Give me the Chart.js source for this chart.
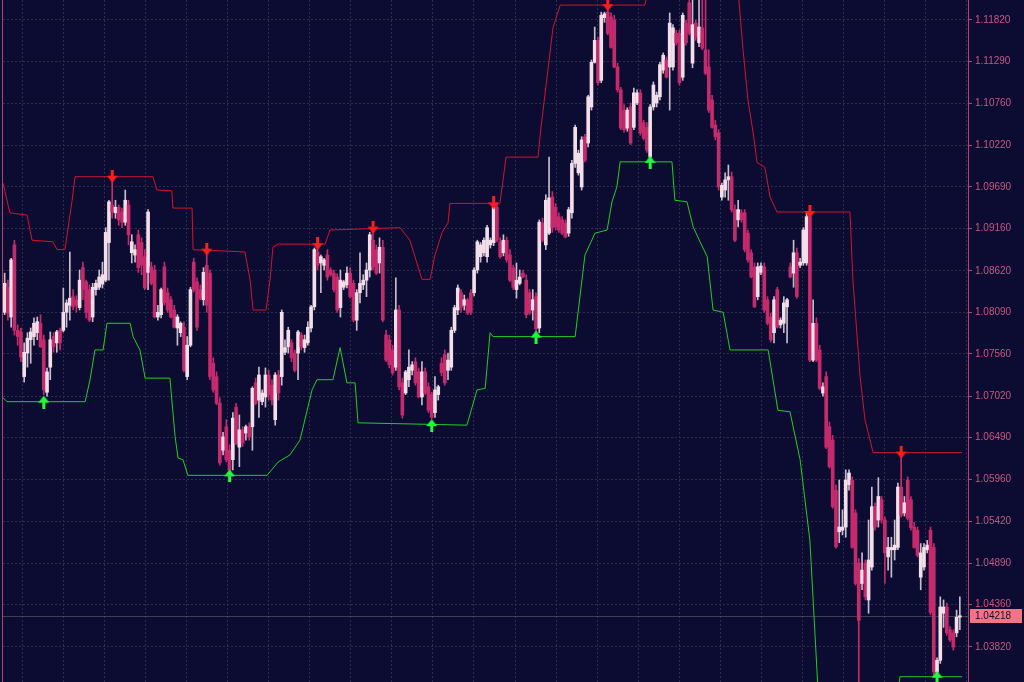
<!DOCTYPE html>
<html>
<head>
<meta charset="utf-8">
<script src="https://cdn.jsdelivr.net/npm/chart.js@4.4.0/dist/chart.umd.min.js"></script>
<style>
  html, body { margin: 0; padding: 0; background: #0c0c33; }
  #wrap { width: 1024px; height: 682px; }
</style>
</head>
<body>
<div id="wrap"><canvas id="chart" width="1024" height="682"></canvas></div>
<script>
// candles (one per bar, left to right)
var opens = [
1.0809,1.0841,1.0803,1.0895,1.0786,1.0784,1.0727,1.0757,1.0774,1.0778,
1.0783,1.0795,1.0774,1.0707,1.0739,1.0778,1.0770,1.0786,1.0786,1.0809,
1.0818,1.0829,1.0825,1.0815,1.0866,1.0848,1.0838,1.0803,1.0838,1.0841,
1.0845,1.0850,1.0898,1.0946,1.0936,1.0943,1.0937,1.0924,1.0946,1.0885,
1.0882,1.0908,1.0898,1.0880,1.0860,1.0867,1.0863,1.0803,1.0806,1.0867,
1.0834,1.0825,1.0812,1.0789,1.0783,1.0790,1.0727,1.0767,1.0873,1.0848,
1.0838,1.0825,1.0869,1.0859,1.0744,1.0727,1.0693,1.0633,1.0663,1.0633,
1.0621,1.0688,1.0637,1.0659,1.0655,1.0663,1.0663,1.0719,1.0697,1.0695,
1.0701,1.0729,1.0716,1.0672,1.0729,1.0727,1.0758,1.0765,1.0770,1.0757,
1.0757,1.0780,1.0764,1.0770,1.0789,1.0816,1.0886,1.0872,1.0869,1.0882,
1.0863,1.0859,1.0854,1.0815,1.0841,1.0844,1.0859,1.0846,1.0799,1.0834,
1.0844,1.0850,1.0863,1.0901,1.0889,1.0872,1.0892,1.0780,1.0774,1.0761,
1.0739,1.0812,1.0719,1.0706,1.0723,1.0735,1.0746,1.0733,1.0701,1.0733,
1.0714,1.0704,1.0681,1.0704,1.0744,1.0755,1.0735,1.0739,1.0786,1.0812,
1.0834,1.0818,1.0825,1.0834,1.0834,1.0863,1.0880,1.0885,1.0880,1.0895,
1.0898,1.0943,1.0899,1.0885,1.0901,1.0882,1.0866,1.0838,1.0846,1.0859,
1.0850,1.0834,1.0812,1.0829,1.0789,1.0923,1.0895,1.0910,1.0956,1.0943,
1.0931,1.0927,1.0923,1.0910,1.0936,1.0999,1.0987,1.0969,1.1033,1.1025,
1.1071,1.1128,1.1156,1.1105,1.1185,1.1192,1.1186,1.1182,1.1122,1.1093,
1.1067,1.1044,1.1071,1.1045,1.1076,1.1089,1.1051,1.1045,1.1007,1.1071,
1.1076,1.1084,1.1118,1.1131,1.1122,1.1122,1.1165,1.1165,1.1109,1.1178,
1.1204,1.1127,1.1178,1.1153,1.1172,1.1144,1.1122,1.1080,1.1048,1.1038,
1.0956,1.0965,1.0978,1.0982,1.0940,1.0927,1.0936,1.0936,1.0910,1.0885,
1.0867,1.0829,1.0860,1.0867,1.0825,1.0803,1.0783,1.0838,1.0793,1.0795,
1.0816,1.0867,1.0859,1.0885,1.0869,1.0872,1.0872,1.0931,1.0748,1.0795,
1.0761,1.0706,1.0727,1.0663,1.0646,1.0582,1.0529,1.0531,1.0535,1.0589,
1.0595,1.0553,1.0489,1.0463,1.0489,1.0442,1.0484,1.0561,1.0544,1.0570,
1.0544,1.0497,1.0506,1.0506,1.0509,1.0586,1.0553,1.0595,1.0570,1.0535,
1.0531,1.0471,1.0484,1.0506,1.0531,1.0509,1.0350,1.0365,1.0425,1.0433,
1.0404,1.0400,1.0400,1.0420
];
var highs = [
1.0859,1.0850,1.0878,1.0901,1.0793,1.0789,1.0770,1.0783,1.0789,1.0802,
1.0803,1.0806,1.0780,1.0738,1.0784,1.0783,1.0786,1.0789,1.0840,1.0825,
1.0886,1.0838,1.0830,1.0863,1.0873,1.0850,1.0844,1.0846,1.0850,1.0863,
1.0873,1.0917,1.0952,1.0978,1.0952,1.0946,1.0942,1.0965,1.0952,1.0908,
1.0895,1.0914,1.0904,1.0889,1.0940,1.0873,1.0869,1.0818,1.0840,1.0873,
1.0840,1.0829,1.0818,1.0806,1.0797,1.0797,1.0778,1.0841,1.0878,1.0853,
1.0844,1.0866,1.0886,1.0863,1.0751,1.0733,1.0700,1.0656,1.0672,1.0640,
1.0681,1.0693,1.0678,1.0663,1.0665,1.0668,1.0714,1.0725,1.0739,1.0710,
1.0738,1.0735,1.0723,1.0732,1.0735,1.0812,1.0774,1.0790,1.0774,1.0761,
1.0786,1.0783,1.0780,1.0797,1.0818,1.0891,1.0895,1.0882,1.0878,1.0889,
1.0866,1.0863,1.0858,1.0863,1.0850,1.0867,1.0866,1.0850,1.0838,1.0885,
1.0857,1.0872,1.0911,1.0920,1.0895,1.0904,1.0901,1.0786,1.0780,1.0767,
1.0853,1.0818,1.0725,1.0735,1.0761,1.0746,1.0751,1.0738,1.0746,1.0738,
1.0719,1.0707,1.0727,1.0716,1.0751,1.0761,1.0757,1.0790,1.0818,1.0844,
1.0838,1.0831,1.0827,1.0838,1.0866,1.0901,1.0898,1.0904,1.0920,1.0904,
1.0952,1.0948,1.0904,1.0908,1.0905,1.0889,1.0869,1.0872,1.0863,1.0863,
1.0857,1.0838,1.0838,1.0834,1.0927,1.0929,1.0959,1.1007,1.0963,1.0948,
1.0936,1.0931,1.0927,1.0943,1.1003,1.1048,1.1016,1.1033,1.1036,1.1086,
1.1131,1.1173,1.1160,1.1192,1.1192,1.1201,1.1191,1.1188,1.1127,1.1096,
1.1074,1.1070,1.1076,1.1095,1.1093,1.1093,1.1054,1.1051,1.1074,1.1103,
1.1090,1.1128,1.1140,1.1135,1.1191,1.1176,1.1169,1.1169,1.1191,1.1182,
1.1227,1.1220,1.1182,1.1214,1.1233,1.1208,1.1144,1.1086,1.1054,1.1042,
1.0974,1.0987,1.0997,1.0988,1.0946,1.0952,1.0940,1.0940,1.0914,1.0889,
1.0872,1.0872,1.0872,1.0872,1.0829,1.0808,1.0829,1.0841,1.0802,1.0829,
1.0827,1.0872,1.0901,1.0891,1.0878,1.0917,1.0936,1.0942,1.0825,1.0802,
1.0767,1.0719,1.0733,1.0669,1.0652,1.0589,1.0595,1.0557,1.0608,1.0608,
1.0599,1.0557,1.0495,1.0502,1.0493,1.0544,1.0586,1.0566,1.0598,1.0574,
1.0548,1.0522,1.0522,1.0544,1.0591,1.0630,1.0574,1.0599,1.0574,1.0541,
1.0535,1.0514,1.0514,1.0518,1.0535,1.0514,1.0368,1.0446,1.0442,1.0438,
1.0408,1.0404,1.0429,1.0446
];
var lows = [
1.0806,1.0799,1.0790,1.0780,1.0767,1.0746,1.0720,1.0739,1.0744,1.0767,
1.0774,1.0764,1.0704,1.0702,1.0723,1.0758,1.0758,1.0761,1.0784,1.0790,
1.0799,1.0812,1.0809,1.0812,1.0825,1.0802,1.0797,1.0797,1.0831,1.0838,
1.0840,1.0848,1.0850,1.0929,1.0929,1.0920,1.0917,1.0920,1.0895,1.0872,
1.0873,1.0860,1.0857,1.0838,1.0838,1.0844,1.0802,1.0799,1.0802,1.0818,
1.0809,1.0802,1.0789,1.0767,1.0778,1.0733,1.0723,1.0765,1.0835,1.0786,
1.0825,1.0818,1.0809,1.0723,1.0707,1.0691,1.0614,1.0627,1.0618,1.0605,
1.0608,1.0640,1.0612,1.0638,1.0646,1.0646,1.0633,1.0691,1.0675,1.0691,
1.0688,1.0697,1.0691,1.0665,1.0697,1.0716,1.0755,1.0757,1.0746,1.0733,
1.0723,1.0761,1.0758,1.0767,1.0784,1.0812,1.0863,1.0834,1.0863,1.0850,
1.0855,1.0835,1.0809,1.0803,1.0838,1.0840,1.0827,1.0797,1.0786,1.0821,
1.0838,1.0829,1.0854,1.0863,1.0857,1.0859,1.0797,1.0746,1.0738,1.0729,
1.0735,1.0710,1.0674,1.0704,1.0714,1.0729,1.0716,1.0700,1.0691,1.0704,
1.0681,1.0673,1.0675,1.0697,1.0728,1.0716,1.0723,1.0735,1.0783,1.0806,
1.0809,1.0812,1.0806,1.0806,1.0830,1.0859,1.0873,1.0881,1.0873,1.0891,
1.0894,1.0899,1.0878,1.0881,1.0873,1.0848,1.0838,1.0827,1.0844,1.0853,
1.0802,1.0806,1.0799,1.0784,1.0783,1.0899,1.0889,1.0908,1.0911,1.0914,
1.0911,1.0908,1.0904,1.0906,1.0929,1.0994,1.0984,1.0965,1.1001,1.1020,
1.1067,1.1127,1.1099,1.1102,1.1179,1.1163,1.1146,1.1121,1.1090,1.1042,
1.1039,1.1040,1.1023,1.1042,1.1074,1.1035,1.1029,1.1013,1.1004,1.1067,
1.1071,1.1080,1.1114,1.1108,1.1067,1.1118,1.1150,1.1099,1.1105,1.1150,
1.1163,1.1121,1.1156,1.1148,1.1144,1.1112,1.1064,1.1044,1.1029,1.0965,
1.0952,1.0956,1.0952,1.0937,1.0899,1.0918,1.0924,1.0886,1.0873,1.0853,
1.0815,1.0825,1.0857,1.0809,1.0793,1.0771,1.0770,1.0789,1.0789,1.0783,
1.0770,1.0853,1.0841,1.0827,1.0866,1.0869,1.0869,1.0746,1.0746,1.0746,
1.0710,1.0702,1.0635,1.0610,1.0559,1.0508,1.0515,1.0525,1.0522,1.0582,
1.0508,1.0461,1.0327,1.0455,1.0442,1.0425,1.0480,1.0531,1.0535,1.0540,
1.0463,1.0480,1.0471,1.0493,1.0506,1.0548,1.0549,1.0544,1.0531,1.0508,
1.0497,1.0455,1.0480,1.0502,1.0423,1.0346,1.0344,1.0361,1.0407,1.0397,
1.0389,1.0378,1.0395,1.0404
];
var closes = [
1.0846,1.0808,1.0876,1.0786,1.0778,1.0752,1.0758,1.0776,1.0784,1.0795,
1.0797,1.0765,1.0710,1.0733,1.0774,1.0765,1.0784,1.0770,1.0809,1.0821,
1.0827,1.0816,1.0818,1.0850,1.0838,1.0809,1.0799,1.0841,1.0846,1.0854,
1.0857,1.0911,1.0950,1.0937,1.0943,1.0927,1.0924,1.0952,1.0908,1.0899,
1.0889,1.0866,1.0869,1.0840,1.0937,1.0846,1.0803,1.0809,1.0838,1.0821,
1.0812,1.0803,1.0790,1.0803,1.0795,1.0735,1.0767,1.0838,1.0838,1.0790,
1.0827,1.0860,1.0818,1.0727,1.0710,1.0693,1.0617,1.0650,1.0621,1.0608,
1.0674,1.0642,1.0659,1.0642,1.0663,1.0650,1.0712,1.0693,1.0729,1.0706,
1.0729,1.0704,1.0697,1.0729,1.0706,1.0809,1.0764,1.0786,1.0751,1.0735,
1.0784,1.0765,1.0774,1.0790,1.0816,1.0889,1.0869,1.0880,1.0876,1.0854,
1.0857,1.0838,1.0812,1.0850,1.0848,1.0859,1.0829,1.0799,1.0834,1.0846,
1.0850,1.0863,1.0908,1.0867,1.0859,1.0892,1.0799,1.0748,1.0742,1.0732,
1.0812,1.0714,1.0678,1.0733,1.0739,1.0742,1.0719,1.0701,1.0733,1.0706,
1.0684,1.0675,1.0710,1.0714,1.0732,1.0719,1.0748,1.0786,1.0815,1.0840,
1.0815,1.0825,1.0808,1.0809,1.0863,1.0899,1.0895,1.0901,1.0917,1.0901,
1.0943,1.0901,1.0880,1.0901,1.0876,1.0850,1.0841,1.0850,1.0854,1.0854,
1.0806,1.0808,1.0825,1.0788,1.0924,1.0901,1.0952,1.0955,1.0917,1.0918,
1.0914,1.0910,1.0905,1.0940,1.0999,1.1045,1.1012,1.1029,1.1003,1.1084,
1.1128,1.1156,1.1102,1.1188,1.1190,1.1165,1.1147,1.1122,1.1093,1.1044,
1.1042,1.1067,1.1025,1.1089,1.1089,1.1038,1.1031,1.1016,1.1071,1.1099,
1.1086,1.1125,1.1137,1.1109,1.1178,1.1172,1.1153,1.1102,1.1188,1.1153,
1.1165,1.1176,1.1160,1.1173,1.1146,1.1114,1.1067,1.1045,1.1033,1.0969,
1.0971,1.0978,1.0982,1.0940,1.0901,1.0940,1.0927,1.0889,1.0876,1.0854,
1.0816,1.0867,1.0868,1.0812,1.0795,1.0774,1.0825,1.0790,1.0799,1.0821,
1.0825,1.0854,1.0885,1.0829,1.0873,1.0914,1.0931,1.0748,1.0795,1.0748,
1.0712,1.0714,1.0637,1.0612,1.0561,1.0510,1.0535,1.0535,1.0595,1.0604,
1.0509,1.0463,1.0416,1.0480,1.0446,1.0493,1.0561,1.0535,1.0574,1.0544,
1.0502,1.0509,1.0509,1.0512,1.0586,1.0550,1.0566,1.0546,1.0534,1.0509,
1.0499,1.0502,1.0509,1.0512,1.0426,1.0350,1.0365,1.0433,1.0433,1.0400,
1.0391,1.0382,1.0420,1.04218
];

// channel lines (bar index, price at each corner)
var upperIdx = [-0.5,1.6,6.9,8.4,14.8,16.1,18.5,20.7,21.6,45.5,46.7,51.3,51.6,57.5,57.8,73.7,75.3,76.2,80.2,81.4,82.3,83.9,98.3,99.8,121.3,124.3,128.0,130.5,132.0,134.2,136.0,136.6,151.9,152.9,153.8,163.6,164.5,168.2,170.4,196.4,198.0,224.7,226.5,228.0,229.6,230.8,233.2,234.8,236.9,259.3,260.2,262.4,263.9,266.4,293.7];
var upperPrice = [1.0974,1.0936,1.0933,1.0901,1.0899,1.0889,1.0889,1.0952,1.0982,1.0982,1.0965,1.0964,1.0942,1.0942,1.0889,1.0886,1.0850,1.0812,1.0812,1.0850,1.0892,1.0896,1.0896,1.0914,1.0917,1.0901,1.0851,1.0851,1.0882,1.0911,1.0923,1.0948,1.0948,1.0978,1.1007,1.1007,1.1044,1.1172,1.1201,1.1201,1.1233,1.1233,1.1144,1.1080,1.1038,1.1000,1.0994,1.0956,1.0937,1.0937,1.0850,1.0727,1.0672,1.0630,1.0630];
var lowerIdx = [-0.5,0.7,24.7,26.2,27.7,30.2,31.4,38.5,39.4,41.5,43.1,50.7,52.3,53.2,54.7,56.2,80.5,83.9,87.5,90.6,94.3,95.8,100.7,102.9,105.0,107.5,108.4,141.8,144.9,147.4,148.9,149.8,175.0,178.0,181.1,184.8,186.3,187.8,188.8,204.7,205.6,209.3,211.2,213.3,215.5,217.3,220.4,222.5,234.2,237.2,240.9,244.0,247.0,249.5,250.7,273.1,274.6,293.7];
var lowerPrice = [1.0700,1.0695,1.0695,1.0723,1.0761,1.0761,1.0795,1.0795,1.0778,1.0761,1.0725,1.0725,1.0650,1.0623,1.0621,1.0601,1.0601,1.0618,1.0627,1.0646,1.0710,1.0723,1.0723,1.0764,1.0719,1.0719,1.0668,1.0665,1.0710,1.0712,1.0783,1.0778,1.0778,1.0882,1.0910,1.0914,1.0950,1.0969,1.1001,1.1001,1.0952,1.0950,1.0918,1.0899,1.0880,1.0812,1.0809,1.0761,1.0761,1.0684,1.0682,1.0621,1.0518,1.0327,1.0276,1.0276,1.0344,1.0344];

// signal arrows
var sellIdx = [33,62,96,113,150,185,247,275];
var sellPrice = [1.0982,1.0889,1.0896,1.0917,1.0948,1.1201,1.0937,1.0630];
var buyIdx = [12,69,131,163,198,286];
var buyPrice = [1.0695,1.0601,1.0665,1.0778,1.1001,1.0344];

// price axis labels
var tickValues = [1.1182,1.1129,1.1076,1.1022,1.0969,1.0916,1.0862,1.0809,1.0756,1.0702,1.0649,1.0596,1.0542,1.0489,1.0436,1.0382];

var BG = '#0c0c33';
var BULL_BODY = '#f3dfe9', BULL_WICK = '#c9bccc', BEAR = '#c42a6c';
var AXIS_PINK = '#b8406e';

var n = closes.length;
var lastPrice = closes[n - 1];
var wickData = [], bodyData = [], wickCols = [], bodyCols = [];
for (var i = 0; i < n; i++) {
  var up = closes[i] >= opens[i];
  wickData.push({x: i, y: [lows[i], highs[i]]});
  bodyData.push({x: i, y: [opens[i], closes[i]]});
  wickCols.push(up ? BULL_WICK : BEAR);
  bodyCols.push(up ? BULL_BODY : BEAR);
}
function pts(xs, ys) {
  var out = [];
  for (var k = 0; k < xs.length; k++) out.push({x: xs[k], y: ys[k]});
  return out;
}

function makeArrow(color, down) {
  var c = document.createElement('canvas');
  c.width = 11; c.height = 14;
  var g = c.getContext('2d');
  g.fillStyle = color;
  if (!down) { g.translate(0, 14); g.scale(1, -1); }
  g.fillRect(4, 0, 3, 7);
  g.beginPath();
  g.moveTo(0, 6); g.lineTo(11, 6); g.lineTo(5.5, 13);
  g.closePath(); g.fill();
  return c;
}
var sellArrow = makeArrow('#ff1c1c', true);
var buyArrow = makeArrow('#1cff3a', false);

var mtPlugin = {
  id: 'mt',
  beforeDraw: function(chart) {
    var ctx = chart.ctx;
    ctx.save();
    ctx.fillStyle = BG;
    ctx.fillRect(0, 0, chart.width, chart.height);
    ctx.restore();
  },
  beforeDatasetsDraw: function(chart) {
    var ctx = chart.ctx, a = chart.chartArea;
    var py = Math.round(chart.scales.y.getPixelForValue(lastPrice)) + 0.5;
    ctx.save();
    ctx.strokeStyle = 'rgba(120,130,120,0.45)';
    ctx.lineWidth = 1;
    ctx.beginPath(); ctx.moveTo(a.left, py); ctx.lineTo(a.right, py); ctx.stroke();
    ctx.restore();
  },
  afterDraw: function(chart) {
    var ctx = chart.ctx, a = chart.chartArea;
    ctx.save();
    ctx.strokeStyle = AXIS_PINK;
    ctx.lineWidth = 1;
    ctx.beginPath(); ctx.moveTo(a.left - 0.5, 0); ctx.lineTo(a.left - 0.5, chart.height); ctx.stroke();
    var py = Math.round(chart.scales.y.getPixelForValue(lastPrice));
    ctx.fillStyle = '#f27585';
    ctx.fillRect(a.right + 2, py - 7, 52, 14);
    ctx.fillStyle = '#140f2e';
    ctx.font = '10px "Liberation Sans"';
    ctx.textBaseline = 'middle';
    ctx.fillText(lastPrice.toFixed(5), a.right + 7, py);
    ctx.restore();
  }
};

new Chart(document.getElementById('chart'), {
  type: 'bar',
  data: {
    datasets: [
      { type: 'line', data: pts(sellIdx, sellPrice), showLine: false, pointStyle: sellArrow, pointRadius: 6, order: 0 },
      { type: 'line', data: pts(buyIdx, buyPrice), showLine: false, pointStyle: buyArrow, pointRadius: 6, order: 0 },
      { type: 'line', data: pts(upperIdx, upperPrice), borderColor: '#d0142c', borderWidth: 1, pointRadius: 0, tension: 0, fill: false, order: 1 },
      { type: 'line', data: pts(lowerIdx, lowerPrice), borderColor: '#22cc22', borderWidth: 1, pointRadius: 0, tension: 0, fill: false, order: 1 },
      { data: bodyData, backgroundColor: bodyCols, barThickness: 3, minBarLength: 1, grouped: false, borderWidth: 0, order: 2 },
      { data: wickData, backgroundColor: wickCols, barThickness: 1, grouped: false, borderWidth: 0, order: 3 }
    ]
  },
  options: {
    responsive: false,
    animation: false,
    events: [],
    layout: { autoPadding: false, padding: { left: 3, right: 0, top: 0, bottom: 0 } },
    plugins: { legend: { display: false }, tooltip: { enabled: false } },
    scales: {
      x: {
        type: 'linear',
        min: -0.5,
        max: 295.5,
        offset: false,
        afterBuildTicks: function(s) {
          var t = [];
          for (var v = 11.77; v < s.max; v += 12.59) t.push({value: v});
          s.ticks = t;
        },
        afterFit: function(s) { s.height = 0; s.paddingLeft = 0; s.paddingRight = 0; },
        ticks: { display: false },
        grid: { color: '#2c2e4a', drawTicks: false },
        border: { display: false, dash: [2, 2] }
      },
      y: {
        position: 'right',
        min: 1.03373,
        max: 1.12075,
        bounds: 'data',
        afterBuildTicks: function(s) {
          s.ticks = tickValues.map(function(v) { return {value: v}; });
        },
        afterFit: function(s) { s.width = 56; s.paddingTop = 0; s.paddingBottom = 0; },
        ticks: {
          autoSkip: false,
          color: '#c9577f',
          padding: 3,
          font: { family: 'Liberation Sans', size: 10 },
          callback: function(v) { return Number(v).toFixed(5); }
        },
        grid: { color: '#2c2e4a', tickColor: AXIS_PINK, tickLength: 4 },
        border: { display: true, color: AXIS_PINK, dash: [2, 2] }
      }
    }
  },
  plugins: [mtPlugin]
});
</script>
</body>
</html>
